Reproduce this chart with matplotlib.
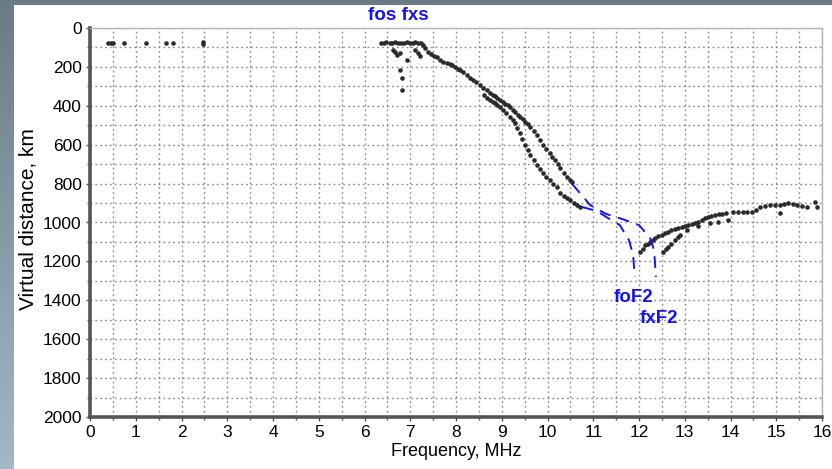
import numpy as np
import matplotlib.pyplot as plt
from matplotlib.patches import Rectangle

plt.rcParams['font.family'] = ['Liberation Sans', 'DejaVu Sans']

# low-frequency E echoes
e_f = [0.40, 0.45, 0.50, 0.74, 1.22, 1.66, 1.81, 2.47, 2.48]
e_h = [78, 78, 78, 78, 76, 78, 78, 72, 80]

# sporadic E trace
es_f = [6.36, 6.42, 6.48, 6.55, 6.61, 6.67, 6.74, 6.80, 6.86, 6.93, 6.99, 7.05, 7.11, 7.18, 7.24]
es_h = [75, 76, 74, 75, 76, 74, 75, 77, 75, 74, 76, 75, 74, 76, 75]

# scattered echoes under Es
sc_f = [6.62, 6.67, 6.71, 6.78, 6.93, 6.78, 6.82, 6.82, 7.10, 7.17, 7.21]
sc_h = [113, 123, 139, 128, 164, 216, 257, 319, 113, 128, 144]

# F trace before the o/x split
f_f = [7.28, 7.33, 7.39, 7.46, 7.52, 7.58, 7.65, 7.72, 7.80, 7.86, 7.91, 7.98, 8.04, 8.09,
       8.16, 8.24, 8.30, 8.37, 8.44, 8.52, 8.60, 8.68]
f_h = [87, 105, 123, 135, 142, 149, 162, 175, 180, 186, 190, 203, 210, 216,
       228, 242, 255, 267, 280, 293, 306, 319]

# extraordinary branch
x_f = [8.74, 8.80, 8.85, 8.90, 8.96, 9.02, 9.07, 9.13, 9.18, 9.24, 9.29, 9.35, 9.40, 9.46,
       9.51, 9.57, 9.62, 9.70, 9.77, 9.84, 9.90, 9.97, 10.05, 10.10, 10.16, 10.22, 10.27,
       10.35, 10.43, 10.49, 10.54]
x_h = [334, 344, 352, 361, 370, 380, 390, 398, 406, 420, 433, 445, 457, 470,
       483, 496, 509, 530, 550, 575, 601, 622, 643, 661, 679, 700, 720,
       743, 766, 780, 792]

# ordinary branch
o_f = [8.62, 8.68, 8.74, 8.80, 8.85, 8.90, 8.96, 9.03, 9.10, 9.18, 9.24, 9.29, 9.34, 9.40,
       9.45, 9.51, 9.57, 9.62, 9.70, 9.77, 9.84, 9.90, 9.97, 10.05, 10.13, 10.21, 10.27,
       10.35, 10.42, 10.49, 10.57, 10.64, 10.71]
o_h = [345, 360, 370, 380, 388, 396, 408, 421, 438, 457, 473, 488, 512, 540,
       570, 601, 628, 653, 680, 704, 725, 745, 764, 781, 800, 817, 848,
       862, 873, 884, 898, 910, 920]

# trace above the critical frequencies
h_f = [12.02, 12.08, 12.13, 12.19, 12.24, 12.30, 12.35, 12.42, 12.50, 12.56, 12.63, 12.71,
       12.79, 12.86, 12.94, 13.00, 13.07, 13.15, 13.22, 13.30, 13.38, 13.45, 13.51, 13.58,
       13.66, 13.74, 13.81, 13.90, 14.05, 14.16, 14.27, 14.37, 14.47, 14.56, 14.64, 14.75,
       14.86, 14.97, 15.08, 15.17, 15.26, 15.36, 15.45, 15.56, 15.67, 15.85, 15.89]
h_h = [1151, 1135, 1115, 1108, 1100, 1090, 1079, 1071, 1064, 1056, 1049, 1041,
       1033, 1028, 1023, 1018, 1013, 1008, 1002, 995, 987, 979, 971, 966,
       961, 958, 956, 951, 946, 946, 946, 944, 946, 935, 920, 915,
       910, 912, 910, 905, 900, 905, 910, 915, 920, 894, 920]

hx_f = [12.52, 12.58, 12.63, 12.71, 12.79, 12.85, 12.90, 13.05, 13.30, 13.55, 13.73, 13.95, 15.08]
hx_h = [1151, 1138, 1126, 1108, 1090, 1077, 1064, 1040, 1020, 1002, 997, 987, 951]

# hand-drawn extrapolations to the critical frequencies
ocurve_f = [10.75, 11.08, 11.32, 11.58, 11.78, 11.87, 11.91]
ocurve_h = [920, 941, 977, 1013, 1090, 1167, 1280]
xcurve_f = [10.54, 10.93, 11.28, 11.63, 12.00, 12.24, 12.33, 12.37]
xcurve_h = [802, 910, 956, 982, 1013, 1079, 1141, 1280]

fig = plt.figure(figsize=(8.32, 4.69), dpi=100)

# slate gradient backdrop with a white panel
bg = fig.add_axes([0, 0, 1, 1], zorder=-10)
t = np.linspace(0, 1, 256)[:, None, None]
c_top = np.array([0x6b, 0x7b, 0x86]) / 255
c_bot = np.array([0xa2, 0xb8, 0xc6]) / 255
bg.imshow(c_top + (c_bot - c_top) * t * np.ones((1, 2, 1)), aspect='auto', extent=[0, 1, 0, 1])
bg.axis('off')
fig.patches.append(Rectangle((14 / 832, 0), 1, 1 - 5 / 469, transform=fig.transFigure,
                             facecolor='white', edgecolor='none', zorder=-5))

ax = fig.add_axes([90 / 832, 1 - 417 / 469, 732 / 832, 389 / 469])
ax.set_facecolor('white')

dot = dict(ls='none', marker='o', ms=3.3, mew=0, color='#2a2a2a', zorder=3)
for fx, hy in [(e_f, e_h), (es_f, es_h), (sc_f, sc_h), (f_f, f_h), (x_f, x_h),
               (o_f, o_h), (h_f, h_h), (hx_f, hx_h)]:
    ax.plot(fx, hy, **dot)

blue = '#1414f0'
ax.plot(ocurve_f, ocurve_h, color=blue, lw=1.4, ls=(0, (6, 4)), zorder=4)
ax.plot(xcurve_f, xcurve_h, color=blue, lw=1.4, ls=(0, (6, 4)), zorder=4)

ax.text(6.73, -62, 'fos fxs', color=blue, fontsize=13.5, fontweight='bold',
        ha='center', va='center', clip_on=False)
ax.text(11.87, 1388, 'foF2', color=blue, fontsize=13.5, fontweight='bold', ha='center', va='center')
ax.text(12.44, 1496, 'fxF2', color=blue, fontsize=13.5, fontweight='bold', ha='center', va='center')

ax.set_xlim(0, 16)
ax.set_ylim(2000, 0)
ax.set_xticks(np.arange(0, 17, 1))
ax.set_yticks(np.arange(0, 2001, 200))
ax.set_xticks(np.arange(0.5, 16, 1), minor=True)
ax.set_yticks(np.arange(100, 2000, 200), minor=True)
ax.grid(which='both', color='#8c8c8c', lw=1, ls=(0, (1.3, 2.2)))
ax.set_axisbelow(True)

for side in ['left', 'bottom']:
    ax.spines[side].set_linewidth(2.6)
    ax.spines[side].set_color('#555555')
for side in ['top', 'right']:
    ax.spines[side].set_linewidth(1)
    ax.spines[side].set_color('#b4b4b4')

ax.tick_params(which='major', length=3, width=1, color='#555555', labelsize=12.5, pad=3)
ax.tick_params(which='minor', length=2, width=1, color='#555555')

ax.set_xlabel('Frequency, MHz', fontsize=13, labelpad=2)
ax.set_ylabel('Virtual distance, km', fontsize=15)
ax.yaxis.set_label_coords(-0.072, 0.51)

fig.savefig('out.png', dpi=100)
